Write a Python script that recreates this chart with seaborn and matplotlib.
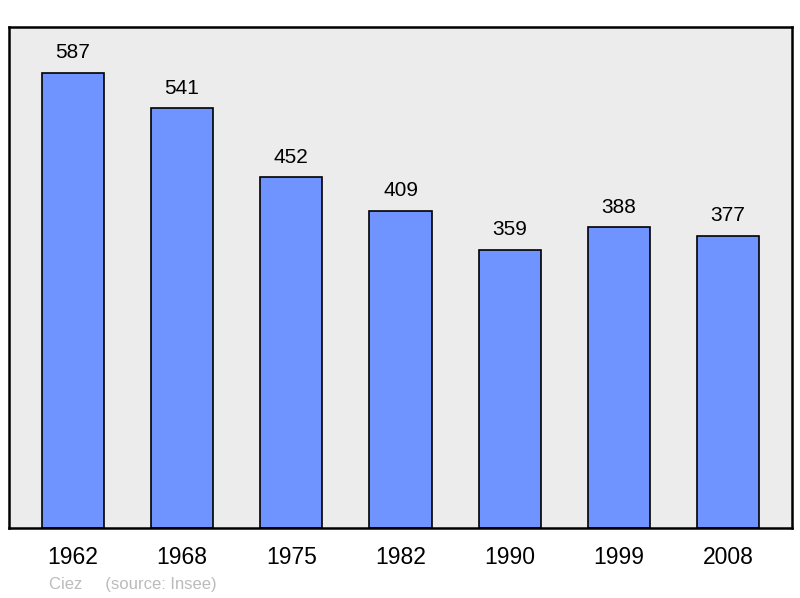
import matplotlib
matplotlib.use("Agg")
import matplotlib.pyplot as plt
import seaborn as sns
import pandas as pd

years = ["1962", "1968", "1975", "1982", "1990", "1999", "2008"]
population = [587, 541, 452, 409, 359, 388, 377]

sns.set_theme(style="white")
plt.rcParams['font.family'] = ['Liberation Sans', 'DejaVu Sans']

df = pd.DataFrame({"year": years, "pop": population})

fig = plt.figure(figsize=(8, 5.98), dpi=100)
ax = fig.add_axes([9/800, 1 - 528/598, 783/800, 501/598])
ax.set_facecolor("#ececec")

sns.barplot(data=df, x="year", y="pop", color="#7094ff", width=0.57,
            edgecolor="black", linewidth=1.2, saturation=1, ax=ax)

for i, v in enumerate(population):
    ax.text(i, v + 20 / 0.775, str(v), ha="center", va="center", fontsize=15, color="black")

ax.set_xlim(-0.585, 6.585)
ax.set_ylim(0, 646)
ax.set_yticks([])
ax.set_xlabel("")
ax.set_ylabel("")
ax.tick_params(axis="x", length=0, pad=13, labelsize=16.5, colors="black")
for s in ax.spines.values():
    s.set_visible(True)
    s.set_color("black")
    s.set_linewidth(1.8)

fig.text(49/800, 1 - 584/598, "Ciez     (source: Insee)", fontsize=12, color="#bbbbbb",
         ha="left", va="center")

fig.savefig("out.png", dpi=100, facecolor="white")
